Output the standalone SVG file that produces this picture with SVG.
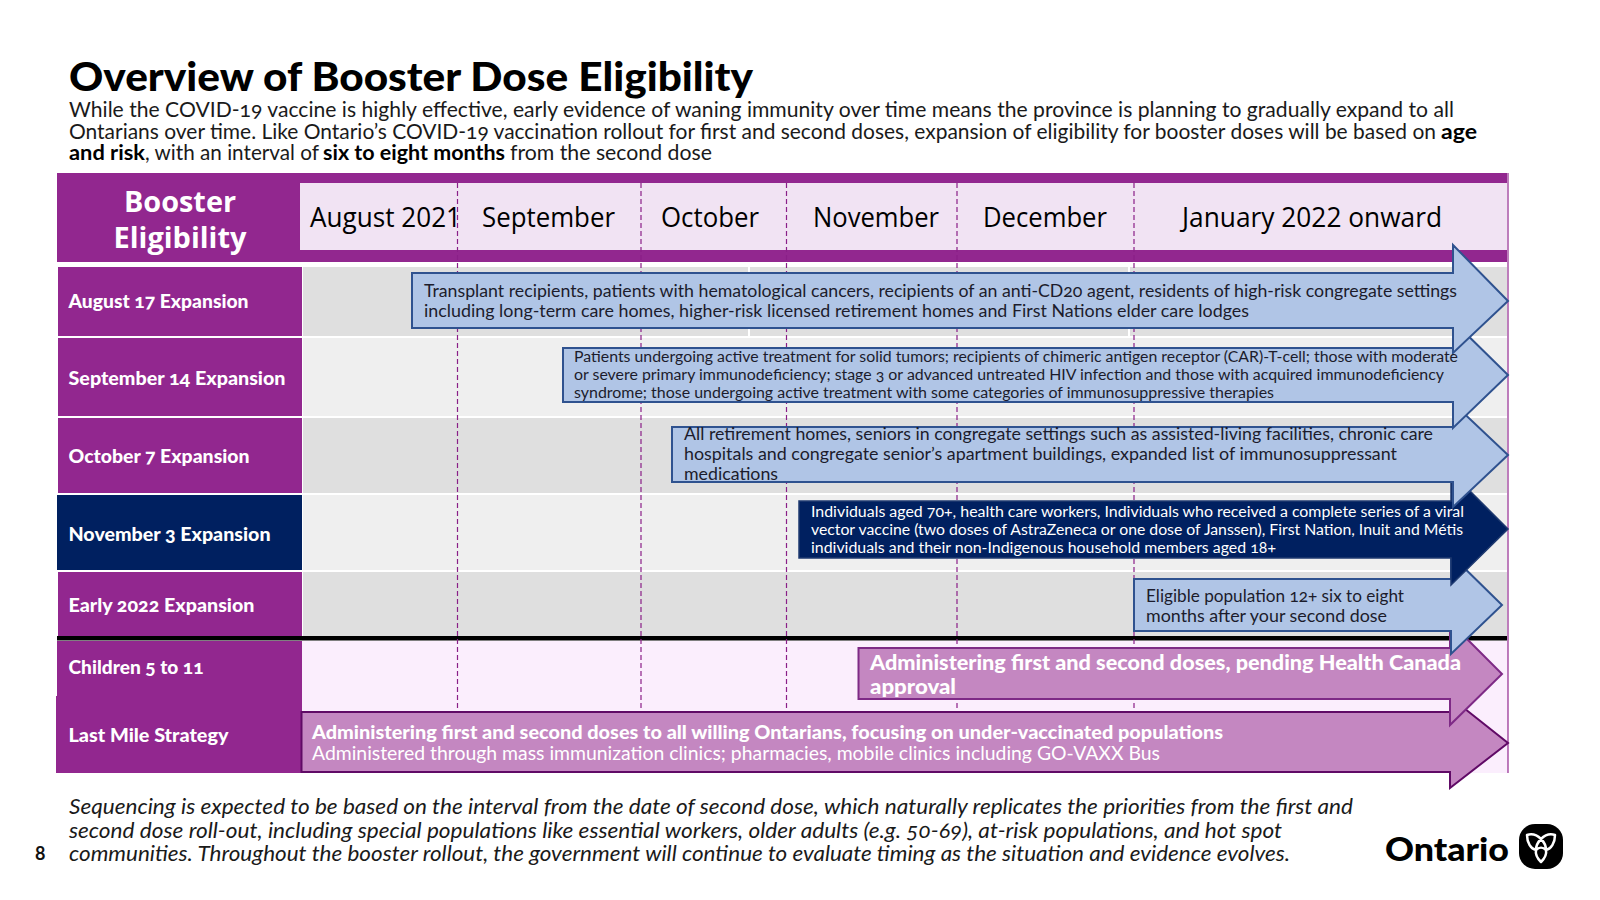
<svg xmlns="http://www.w3.org/2000/svg" width="1600" height="900" viewBox="0 0 1600 900">
<style>
text{font-family:"Lato","Liberation Sans",sans-serif;font-variant-numeric:oldstyle-nums}
.t{font-size:20.5px;fill:#1a1a1a}
.b{font-weight:700;fill:#000}
.m{font-family:"Open Sans","Noto Sans",sans-serif;font-size:27px;font-weight:500;fill:#000;font-variant-numeric:normal}
.r{font-size:18.5px;font-weight:900;fill:#fff}
.a{font-size:17.5px;fill:#1c1c2c}
.s{font-size:15.5px;fill:#1c1c2c}
.w{fill:#fff}
.f{font-size:21px;font-style:italic;fill:#1a1a1a}
.h{font-family:"Open Sans",sans-serif;font-weight:700;font-size:29px;fill:#fff;font-variant-numeric:normal}
.bl{fill:#b0c5e6;stroke:#2f528f;stroke-width:2}
.pk{fill:#c487c1;stroke:#7e2a86;stroke-width:2}
.dash{stroke:#8a1f88;stroke-width:1.2;stroke-dasharray:5 3;fill:none}
</style>
<rect width="1600" height="900" fill="#fff"/>
<text x="69" y="90.500" font-weight="900" font-size="40" fill="#000" textLength="684" lengthAdjust="spacingAndGlyphs">Overview of Booster Dose Eligibility</text>
<g id="intro">
<text class="t" x="69" y="116.500" textLength="1385" lengthAdjust="spacingAndGlyphs">While the COVID-19 vaccine is highly effective, early evidence of waning immunity over time means the province is planning to gradually expand to all</text>
<text class="t" x="69" y="138.500" textLength="1367" lengthAdjust="spacingAndGlyphs">Ontarians over time. Like Ontario’s COVID-19 vaccination rollout for first and second doses, expansion of eligibility for booster doses will be based on</text>
<text class="t b" x="1441" y="138.500" textLength="36" lengthAdjust="spacingAndGlyphs">age</text>
<text class="t b" x="69" y="159.500" textLength="76" lengthAdjust="spacingAndGlyphs">and risk</text>
<text class="t" x="145" y="159.500" textLength="174" lengthAdjust="spacingAndGlyphs">, with an interval of</text>
<text class="t b" x="323" y="159.500" textLength="182" lengthAdjust="spacingAndGlyphs">six to eight months</text>
<text class="t" x="510" y="159.500" textLength="202" lengthAdjust="spacingAndGlyphs">from the second dose</text>
</g>
<g id="grid">
<rect x="57" y="173" width="1450" height="89" fill="#92278f"/>
<rect x="300" y="183" width="1207" height="67" fill="#f1e3f3"/>
<rect x="303" y="267" width="1204" height="69" fill="#dfdfdf"/>
<rect x="303" y="338" width="1204" height="78" fill="#efefef"/>
<rect x="303" y="418" width="1204" height="75" fill="#dfdfdf"/>
<rect x="303" y="495" width="1204" height="75" fill="#efefef"/>
<rect x="303" y="572" width="1204" height="65" fill="#dfdfdf"/>
<rect x="302" y="641" width="1206" height="132" fill="#fbeefd"/>
<rect x="748" y="267" width="2" height="69" fill="#fff"/>
<rect x="1128" y="267" width="2" height="69" fill="#fff"/>
<line x1="1508" y1="173" x2="1508" y2="773" stroke="#92278f" stroke-width="1.2"/>
</g>
<g id="row-labels">
<rect id="head" x="57" y="173" width="243" height="89" fill="#92278f"/>
<rect x="58" y="267" width="244" height="69" fill="#92278f"/>
<rect x="58" y="338" width="244" height="78" fill="#92278f"/>
<rect x="58" y="418" width="244" height="75" fill="#92278f"/>
<rect x="57" y="495" width="245" height="75" fill="#002060"/>
<rect x="58" y="572" width="244" height="65" fill="#92278f"/>
<rect x="57" y="641" width="245" height="56" fill="#92278f"/>
<rect x="56" y="696" width="246" height="77" fill="#92278f"/>
<rect x="57" y="636" width="1450" height="4.500" fill="#000"/>
</g>
<g id="connectors">
<path class="dash" d="M457.500 183V710M641 183V710M786.500 183V710M957 183V710M1134 183V710"/>
</g>
<g id="last-mile"><path d="M301.500 712H1450V697L1508 743L1450 788V772H301.500Z" fill="#c487c1" stroke="#600a66" stroke-width="2"/></g>
<g id="children"><path class="pk" d="M858.500 648H1450V622L1502 674L1450 725V699H858.500Z"/></g>
<g id="early"><path class="bl" d="M1134 579H1451V555L1502 605L1451 654V631H1134Z"/></g>
<g id="nov"><path d="M799 501H1451V472L1508 529L1451 585V558H799Z" fill="#002060" stroke="#1f3a70" stroke-width="1.500"/></g>
<g id="oct"><path class="bl" d="M672 427H1453V403L1508 455L1453 507V482H672Z"/></g>
<g id="sep"><path class="bl" d="M563 348H1453V321L1508 375L1453 428V402H563Z"/></g>
<g id="aug"><path class="bl" d="M412 273H1453V245L1508 301L1453 353V328H412Z"/></g>
<g id="texts">
<text class="h" x="180" y="212" text-anchor="middle" textLength="112" lengthAdjust="spacingAndGlyphs">Booster</text>
<text class="h" x="180" y="248" text-anchor="middle" textLength="133" lengthAdjust="spacingAndGlyphs">Eligibility</text>
<text class="m" x="310" y="227" textLength="151" lengthAdjust="spacingAndGlyphs">August 2021</text>
<text class="m" x="482" y="227" textLength="133" lengthAdjust="spacingAndGlyphs">September</text>
<text class="m" x="661" y="227" textLength="98" lengthAdjust="spacingAndGlyphs">October</text>
<text class="m" x="813" y="227" textLength="126" lengthAdjust="spacingAndGlyphs">November</text>
<text class="m" x="983" y="227" textLength="124" lengthAdjust="spacingAndGlyphs">December</text>
<text class="m" x="1182" y="227" textLength="260" lengthAdjust="spacingAndGlyphs">January 2022 onward</text>
<text class="r" x="68.500" y="308" textLength="180" lengthAdjust="spacingAndGlyphs">August 17 Expansion</text>
<text class="r" x="68.500" y="384.500" textLength="217" lengthAdjust="spacingAndGlyphs">September 14 Expansion</text>
<text class="r" x="68.500" y="463" textLength="181" lengthAdjust="spacingAndGlyphs">October 7 Expansion</text>
<text class="r" x="68.500" y="540.500" textLength="202" lengthAdjust="spacingAndGlyphs">November 3 Expansion</text>
<text class="r" x="68.500" y="612" textLength="186" lengthAdjust="spacingAndGlyphs">Early 2022 Expansion</text>
<text class="r" x="68.500" y="674" textLength="135" lengthAdjust="spacingAndGlyphs">Children 5 to 11</text>
<text class="r" x="68.500" y="742" textLength="160" lengthAdjust="spacingAndGlyphs">Last Mile Strategy</text>
<text class="a" x="424" y="297" textLength="1033" lengthAdjust="spacingAndGlyphs">Transplant recipients, patients with hematological cancers, recipients of an anti-CD20 agent, residents of high-risk congregate settings</text>
<text class="a" x="424" y="317" textLength="825" lengthAdjust="spacingAndGlyphs">including long-term care homes, higher-risk licensed retirement homes and First Nations elder care lodges</text>
<text class="s" x="574" y="362" textLength="884" lengthAdjust="spacingAndGlyphs">Patients undergoing active treatment for solid tumors; recipients of chimeric antigen receptor (CAR)-T-cell; those with moderate</text>
<text class="s" x="574" y="380" textLength="870" lengthAdjust="spacingAndGlyphs">or severe primary immunodeficiency; stage 3 or advanced untreated HIV infection and those with acquired immunodeficiency</text>
<text class="s" x="574" y="398" textLength="700" lengthAdjust="spacingAndGlyphs">syndrome; those undergoing active treatment with some categories of immunosuppressive therapies</text>
<text class="a" x="684" y="440" textLength="749" lengthAdjust="spacingAndGlyphs">All retirement homes, seniors in congregate settings such as assisted-living facilities, chronic care</text>
<text class="a" x="684" y="460" textLength="713" lengthAdjust="spacingAndGlyphs">hospitals and congregate senior’s apartment buildings, expanded list of immunosuppressant</text>
<text class="a" x="684" y="480" textLength="94" lengthAdjust="spacingAndGlyphs">medications</text>
<text class="s w" x="811" y="517" style="fill:#fff" textLength="653" lengthAdjust="spacingAndGlyphs">Individuals aged 70+, health care workers, Individuals who received a complete series of a viral</text>
<text class="s w" x="811" y="535" style="fill:#fff" textLength="652" lengthAdjust="spacingAndGlyphs">vector vaccine (two doses of AstraZeneca or one dose of Janssen), First Nation, Inuit and Métis</text>
<text class="s w" x="811" y="553" style="fill:#fff" textLength="465" lengthAdjust="spacingAndGlyphs">individuals and their non-Indigenous household members aged 18+</text>
<text class="a" x="1146" y="601.500" textLength="258" lengthAdjust="spacingAndGlyphs">Eligible population 12+ six to eight</text>
<text class="a" x="1146" y="621.500" textLength="241" lengthAdjust="spacingAndGlyphs">months after your second dose</text>
<text x="870" y="669.500" font-size="21" font-weight="900" fill="#fff" textLength="591" lengthAdjust="spacingAndGlyphs">Administering first and second doses, pending Health Canada</text>
<text x="870" y="693.500" font-size="21" font-weight="900" fill="#fff" textLength="86" lengthAdjust="spacingAndGlyphs">approval</text>
<text x="312" y="738.500" font-size="18.500" font-weight="900" fill="#fff" textLength="911" lengthAdjust="spacingAndGlyphs">Administering first and second doses to all willing Ontarians, focusing on under-vaccinated populations</text>
<text x="312" y="760" font-size="18.500" fill="#fff" textLength="848" lengthAdjust="spacingAndGlyphs">Administered through mass immunization clinics; pharmacies, mobile clinics including GO-VAXX Bus</text>
</g>
<g id="footer">
<text class="f" x="69" y="813.500" textLength="1284" lengthAdjust="spacingAndGlyphs">Sequencing is expected to be based on the interval from the date of second dose, which naturally replicates the priorities from the first and</text>
<text class="f" x="69" y="837.500" textLength="1213" lengthAdjust="spacingAndGlyphs">second dose roll-out, including special populations like essential workers, older adults (e.g. 50-69), at-risk populations, and hot spot</text>
<text class="f" x="69" y="860.500" textLength="1221" lengthAdjust="spacingAndGlyphs">communities. Throughout the booster rollout, the government will continue to evaluate timing as the situation and evidence evolves.</text>
<text x="35" y="860" font-size="18" font-weight="700" fill="#111" style="font-variant-numeric:normal">8</text>
</g>
<g id="logo">
<text x="1385" y="861" font-size="33" font-weight="900" fill="#000" textLength="124" lengthAdjust="spacingAndGlyphs">Ontario</text>
<rect x="1519" y="824" width="44" height="45" rx="16" fill="#000"/>
<path d="M1541 839C1535 833 1530 834 1527 835C1527 843 1531 849 1536 850C1535 855 1538 859 1541 862C1544 859 1547 855 1546 850C1551 849 1555 843 1555 835C1552 834 1547 833 1541 839ZM1541 839C1537 843 1536 847 1536 850M1541 839C1545 843 1546 847 1546 850M1536 850C1539 847 1543 847 1546 850" fill="none" stroke="#fff" stroke-width="2.500" stroke-linejoin="round"/>
</g>
</svg>
